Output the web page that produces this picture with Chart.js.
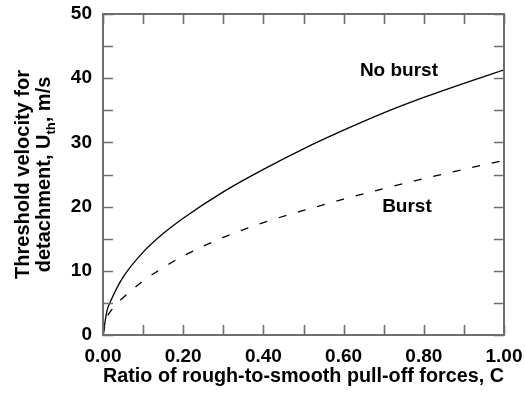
<!DOCTYPE html>
<html>
<head>
<meta charset="utf-8">
<script src="https://cdn.jsdelivr.net/npm/chart.js@4/dist/chart.umd.min.js"></script>
<style>
  html, body { margin: 0; padding: 0; background: #fff; }
  #wrap { width: 525px; height: 398px; }
</style>
</head>
<body>
<div id="wrap"><canvas id="chart" width="525" height="398"></canvas></div>
<script>
// ratio of rough-to-smooth pull-off forces
const ratioC = [0, 0.01, 0.02, 0.05, 0.1, 0.15, 0.2, 0.3, 0.4, 0.5, 0.6, 0.7, 0.8, 0.9, 1.0];
// threshold velocity for detachment, m/s
const noBurst = [0, 3.8, 5.4, 9.0, 12.9, 15.8, 18.2, 22.3, 25.8, 29.0, 31.9, 34.6, 37.0, 39.2, 41.3];
const burst   = [0, 2.7, 3.8, 5.8, 8.4, 10.5, 12.3, 15.2, 17.5, 19.4, 21.15, 22.8, 24.35, 25.8, 27.2];

const xTickLabels = ['0.00', '0.20', '0.40', '0.60', '0.80', '1.00'];
const yTickLabels = ['0', '10', '20', '30', '40', '50'];

const FONT = '"Liberation Sans", Arial, Helvetica, sans-serif';
const AXIS_GREY = '#6e6e6e';

Chart.defaults.font.family = FONT;
Chart.defaults.color = '#000';

const toPoints = ys => ratioC.map((c, i) => ({ x: c, y: ys[i] }));

// box frame, inward ticks on all four sides, y title with subscript, curve labels
const framePlugin = {
  id: 'frame',
  afterDatasetsDraw(chart, args, opts) {
    const { ctx, chartArea: a, scales: { x, y } } = chart;
    const tl = opts.tickLength;
    ctx.save();
    ctx.strokeStyle = AXIS_GREY;
    ctx.lineWidth = 1.6;
    ctx.beginPath();
    x.ticks.forEach(t => {
      const px = Math.round(x.getPixelForValue(t.value)) + 0.5;
      ctx.moveTo(px, a.bottom); ctx.lineTo(px, a.bottom - tl);
      ctx.moveTo(px, a.top); ctx.lineTo(px, a.top + tl);
    });
    y.ticks.forEach(t => {
      const py = Math.round(y.getPixelForValue(t.value)) + 0.5;
      ctx.moveTo(a.left, py); ctx.lineTo(a.left + tl, py);
      ctx.moveTo(a.right, py); ctx.lineTo(a.right - tl, py);
    });
    ctx.stroke();
    ctx.lineWidth = 2;
    ctx.strokeRect(a.left, a.top, a.right - a.left, a.bottom - a.top);

    // curve labels
    ctx.fillStyle = '#000';
    ctx.font = 'bold 19px ' + FONT;
    ctx.textAlign = 'center';
    ctx.textBaseline = 'middle';
    opts.notes.forEach(n => {
      ctx.fillText(n.text, x.getPixelForValue(n.x), y.getPixelForValue(n.y));
    });

    // y axis title, two rotated lines
    const cy = (a.top + a.bottom) / 2;
    ctx.translate(0, cy);
    ctx.rotate(-Math.PI / 2);
    ctx.font = 'bold 20px ' + FONT;
    ctx.textBaseline = 'alphabetic';
    ctx.fillText('Threshold velocity for', 0, 29);

    const main = 'bold 20px ' + FONT, sub = 'bold 13px ' + FONT;
    const parts = [['detachment, U', main, 0], ['th', sub, 5], [', m/s', main, 0]];
    let total = 0;
    parts.forEach(p => { ctx.font = p[1]; total += ctx.measureText(p[0]).width; });
    let sx = -total / 2;
    ctx.textAlign = 'left';
    parts.forEach(p => {
      ctx.font = p[1];
      ctx.fillText(p[0], sx, 50 + p[2]);
      sx += ctx.measureText(p[0]).width;
    });
    ctx.restore();
  }
};

new Chart(document.getElementById('chart'), {
  type: 'line',
  data: {
    datasets: [
      { label: 'No burst', data: toPoints(noBurst), borderColor: '#000', borderWidth: 1.3,
        pointRadius: 0, fill: false, cubicInterpolationMode: 'monotone' },
      { label: 'Burst', data: toPoints(burst), borderColor: '#000', borderWidth: 1.3,
        borderDash: [8, 12], pointRadius: 0, fill: false, cubicInterpolationMode: 'monotone' },
    ],
  },
  options: {
    responsive: false,
    animation: false,
    layout: { padding: { top: 14, right: 21, left: 0, bottom: 0 } },
    plugins: {
      legend: { display: false },
      tooltip: { enabled: false },
      frame: {
        tickLength: 10,
        notes: [
          { text: 'No burst', x: 0.738, y: 41.1 },
          { text: 'Burst', x: 0.758, y: 19.9 },
        ],
      },
    },
    scales: {
      x: {
        type: 'linear', min: 0, max: 1,
        grid: { display: false, drawTicks: false },
        border: { display: false },
        ticks: {
          stepSize: 0.1, padding: 10, maxRotation: 0, autoSkip: false,
          font: { size: 19, weight: 'bold' },
          callback: v => {
            const k = Math.round(v * 10);
            return k % 2 === 0 ? xTickLabels[k / 2] : '';
          },
        },
        title: {
          display: true, text: 'Ratio of rough-to-smooth pull-off forces, C',
          font: { size: 20, weight: 'bold' }, padding: { top: 0, bottom: 10 },
        },
        afterFit: s => { s.height = 63; s.paddingLeft = 0; s.paddingRight = 0; },
      },
      y: {
        type: 'linear', min: 0, max: 50,
        grid: { display: false, drawTicks: false },
        border: { display: false },
        ticks: {
          stepSize: 5, padding: 11, autoSkip: false,
          font: { size: 19, weight: 'bold' },
          callback: v => (v % 10 === 0 ? yTickLabels[v / 10] : ''),
        },
        afterFit: s => { s.width = 103; s.paddingTop = 0; s.paddingBottom = 0; },
      },
    },
  },
  plugins: [framePlugin],
});
</script>
</body>
</html>
